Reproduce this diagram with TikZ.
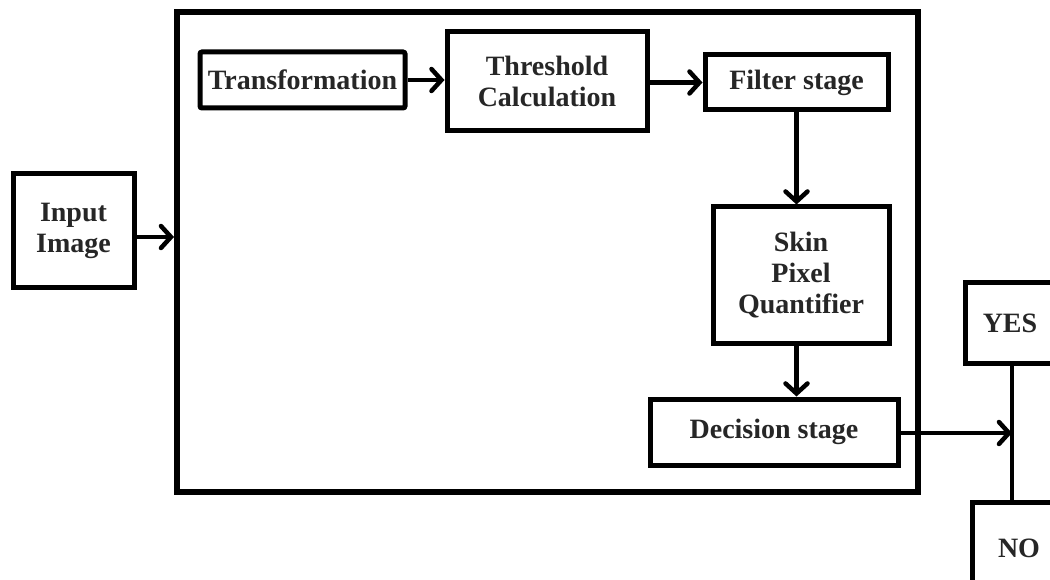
\documentclass[tikz,border=0pt]{standalone}
\usepackage{fontspec}
\setmainfont{Liberation Serif}
\usetikzlibrary{arrows.meta}
\begin{document}
\begin{tikzpicture}[x=1pt,y=-1pt,
  blk/.style={draw, line width=5pt, align=center, inner sep=0pt,
    font=\fontsize{28}{31}\selectfont\bfseries, text=black!85},
  conn/.style={line width=4.5pt, -{Straight Barb[length=10pt,width=22pt,line cap=round]}},
  plain/.style={line width=4.5pt}]
\useasboundingbox (0,0) rectangle (1050,580);
\clip (0,0) rectangle (1050,580);
\fill[white] (0,0) rectangle (1050,580);
\node[draw, line width=6pt, minimum width=741pt, minimum height=480pt, inner sep=0pt] (outer) at (547.5,252) {};
\node[blk, minimum width=121pt, minimum height=114pt] (input) at (73.5,231) {Input\\Image};
\node[blk, rounded corners=2pt, minimum width=205pt, minimum height=56pt] (trans) at (302.5,80) {Transformation};
\node[blk, minimum width=200pt, minimum height=99pt] (thresh) at (547,81.5) {Threshold\\Calculation};
\node[blk, minimum width=183pt, minimum height=55pt] (filter) at (796.5,82.5) {Filter stage};
\node[blk, minimum width=176pt, minimum height=136pt] (skin) at (801,275) {Skin\\Pixel\\Quantifier};
\node[blk, minimum width=248pt, minimum height=66pt] (decision) at (774,432) {Decision stage};
\node[blk, minimum width=90pt, minimum height=80pt] (yes) at (1010,323) {YES};
\node[blk, minimum width=94pt, minimum height=92pt] (no) at (1019,548) {NO};
\coordinate (J) at (1012,433);
\coordinate (inarrow) at (134,237);
\draw[conn] (inarrow) -- (inarrow -| outer.west);
\draw[conn] (trans.east) -- (trans.east -| thresh.west);
\draw[conn] (thresh.east |- filter.west) -- (filter.west);
\draw[conn] (filter.south) -- (filter.south |- skin.north);
\draw[conn] (skin.south -| filter.south) -- (filter.south |- decision.north);
\draw[plain] (yes.south -| J) -- (no.north -| J);
\draw[conn] (decision.east |- J) -- (J);
\end{tikzpicture}
\end{document}
